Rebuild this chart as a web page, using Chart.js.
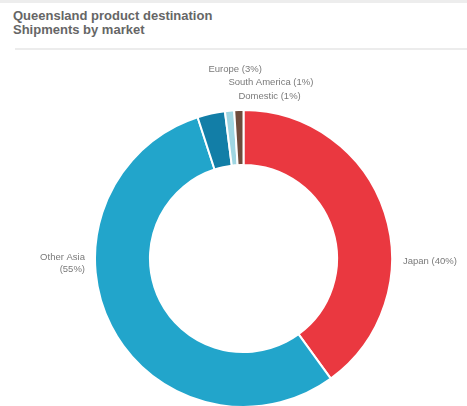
<!DOCTYPE html>
<html>
<head>
<meta charset="utf-8">
<script src="https://cdn.jsdelivr.net/npm/chart.js@4"></script>
<style>
body { margin: 0; background: #fff; }
#wrap { position: relative; width: 467px; height: 406px; overflow: hidden; }
#topbar { position: absolute; left: 0; top: 0; width: 467px; height: 3px; background: #ededed; }
#title { position: absolute; left: 13px; top: 9px; font: bold 13px "Liberation Sans", Arial, sans-serif; color: #666; line-height: 14px; }
#rule { position: absolute; left: 15px; top: 48px; width: 452px; height: 2px; background: #ececec; }
canvas { position: absolute; left: 0; top: 0; }
</style>
</head>
<body>
<div id="wrap">
  <div id="topbar"></div>
  <div id="title">Queensland product destination<br>Shipments by market</div>
  <div id="rule"></div>
  <canvas id="pie" width="467" height="408"></canvas>
</div>
<script>
const markets = ['Japan', 'Other Asia', 'Europe', 'South America', 'Domestic']
const shares = [40, 55, 3, 1, 1]
const colours = ['#ea3840', '#22a5cb', '#127ea7', '#9fd6e2', '#6e4c3c']

// draws the "Name (x%)" labels round the ring
const outsideLabels = {
    id: 'outsideLabels',
    afterDatasetsDraw(chart) {
        const ctx = chart.ctx
        const arcs = chart.getDatasetMeta(0).data
        const total = shares.reduce((a, b) => a + b, 0)
        ctx.save()
        ctx.font = '9.5px "Liberation Sans", Arial, sans-serif'
        ctx.fillStyle = '#7a7a7a'
        ctx.textBaseline = 'middle'
        let stack = 0
        for (let i = arcs.length - 1; i >= 0; i--) {
            const a = arcs[i]
            const mid = (a.startAngle + a.endAngle) / 2
            const r = a.outerRadius
            const pct = Math.round(shares[i] / total * 100)
            const text = markets[i] + ' (' + pct + '%)'
            if (Math.sin(mid) < -0.9) {
                // small slices near the top: stack them upward
                const x = a.x + Math.cos(mid) * (r + 12)
                const y = a.y - r - 14 - stack * 13.5
                ctx.textAlign = 'left'
                ctx.fillText(text, x, y)
                stack++
            } else {
                const right = Math.cos(mid) > 0
                const x = right ? a.x + r + 11 : a.x - r - 10
                ctx.textAlign = right ? 'left' : 'right'
                if (ctx.measureText(text).width > 62) {
                    ctx.fillText(markets[i], x, a.y - 1)
                    ctx.fillText('(' + pct + '%)', x, a.y + 11)
                } else {
                    ctx.fillText(text, x, a.y + 3)
                }
            }
        }
        ctx.restore()
    }
}

new Chart(document.getElementById('pie'), {
    type: 'doughnut',
    data: {
        labels: markets,
        datasets: [{
            data: shares,
            backgroundColor: colours,
            borderColor: '#ffffff',
            borderWidth: 2
        }]
    },
    options: {
        responsive: false,
        animation: false,
        cutout: '63%',
        layout: { padding: { top: 109, left: 20, right: 0, bottom: 0 } },
        plugins: {
            legend: { display: false },
            tooltip: { enabled: false }
        }
    },
    plugins: [outsideLabels]
})
</script>
</body>
</html>
